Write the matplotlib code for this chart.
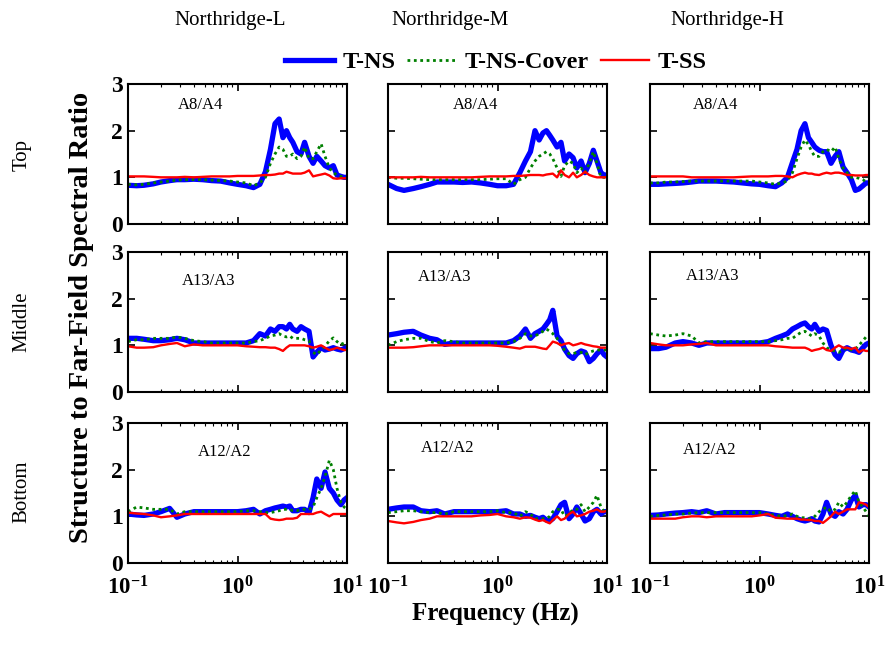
import math
import matplotlib
matplotlib.use("Agg")
import matplotlib.pyplot as plt
from matplotlib.ticker import LogLocator, FixedLocator, NullFormatter, FuncFormatter

plt.rcParams['font.family'] = ['Liberation Serif', 'DejaVu Serif']
plt.rcParams['mathtext.fontset'] = 'custom'
plt.rcParams['mathtext.rm'] = 'Liberation Serif'
plt.rcParams['mathtext.bf'] = 'Liberation Serif:bold'

# frequency grid (Hz) shared by all spectral ratio curves
freq = [0.10, 0.12, 0.14, 0.17, 0.20, 0.24, 0.28, 0.33, 0.40, 0.48,
        0.58, 0.70, 0.85, 1.00, 1.20, 1.40, 1.60, 1.80, 2.00, 2.20,
        2.40, 2.60, 2.80, 3.00, 3.20, 3.50, 3.80, 4.10, 4.50, 4.90,
        5.30, 5.80, 6.30, 6.90, 7.50, 8.10, 8.80, 9.40, 10.0]

records = ['Northridge-L', 'Northridge-M', 'Northridge-H']
levels = ['Top', 'Middle', 'Bottom']
ratio_names = ['A8/A4', 'A13/A3', 'A12/A2']
series_names = ['T-NS', 'T-NS-Cover', 'T-SS']

# Top level (A8/A4)
top_L_tns = [0.83, 0.82, 0.83, 0.86, 0.90, 0.93, 0.95, 0.95, 0.96, 0.95,
             0.93, 0.92, 0.88, 0.85, 0.82, 0.78, 0.85, 1.12, 1.60, 2.15,
             2.25, 1.85, 2.00, 1.85, 1.75, 1.55, 1.50, 1.75, 1.45, 1.30,
             1.45, 1.35, 1.25, 1.20, 1.25, 1.05, 1.02, 1.00, 1.00]
top_L_cov = [0.85, 0.84, 0.85, 0.88, 0.90, 0.92, 0.94, 0.95, 0.95, 0.95,
             0.94, 0.93, 0.92, 0.90, 0.88, 0.82, 0.88, 1.00, 1.30, 1.50,
             1.65, 1.60, 1.45, 1.45, 1.50, 1.40, 1.45, 1.65, 1.40, 1.40,
             1.55, 1.72, 1.45, 1.20, 1.10, 1.05, 1.02, 1.00, 1.00]
top_L_tss = [1.02, 1.02, 1.02, 1.01, 1.00, 1.00, 1.00, 1.01, 1.00, 1.01,
             1.02, 1.02, 1.02, 1.03, 1.03, 1.03, 1.04, 1.05, 1.05, 1.06,
             1.08, 1.08, 1.12, 1.10, 1.08, 1.08, 1.08, 1.10, 1.15, 1.02,
             1.04, 1.06, 1.08, 1.04, 0.98, 0.97, 0.98, 0.98, 0.98]

top_M_tns = [0.85, 0.76, 0.72, 0.76, 0.80, 0.85, 0.90, 0.90, 0.90, 0.89,
             0.90, 0.88, 0.85, 0.82, 0.82, 0.85, 1.10, 1.35, 1.55, 2.00,
             1.80, 1.95, 2.00, 1.90, 1.80, 1.65, 1.75, 1.35, 1.50, 1.42,
             1.20, 1.35, 1.10, 1.30, 1.58, 1.35, 1.10, 1.05, 1.05]
top_M_cov = [1.00, 0.98, 0.98, 0.97, 0.96, 0.95, 0.95, 0.95, 0.95, 0.95,
             0.95, 0.95, 0.96, 0.97, 0.97, 0.85, 0.95, 1.00, 1.20, 1.35,
             1.45, 1.50, 1.55, 1.50, 1.40, 1.20, 1.02, 1.25, 1.35, 1.30,
             1.10, 1.20, 1.10, 1.30, 1.55, 1.30, 1.00, 1.00, 1.00]
top_M_tss = [1.00, 1.00, 1.00, 1.00, 1.01, 1.00, 1.00, 1.00, 1.00, 1.00,
             1.00, 1.01, 1.02, 1.02, 1.02, 1.03, 1.03, 1.04, 1.05, 1.05,
             1.05, 1.04, 1.06, 1.07, 1.08, 1.00, 1.15, 1.05, 1.00, 1.10,
             1.00, 1.05, 1.12, 1.05, 1.02, 1.00, 1.00, 1.00, 1.00]

top_H_tns = [0.85, 0.85, 0.86, 0.87, 0.88, 0.90, 0.92, 0.92, 0.92, 0.91,
             0.90, 0.88, 0.86, 0.85, 0.82, 0.80, 0.88, 1.00, 1.32, 1.60,
             2.00, 2.15, 1.85, 1.75, 1.65, 1.58, 1.55, 1.55, 1.30, 1.45,
             1.55, 1.22, 1.10, 0.95, 0.72, 0.75, 0.82, 0.88, 0.88]
top_H_cov = [0.88, 0.88, 0.90, 0.90, 0.91, 0.92, 0.92, 0.92, 0.92, 0.92,
             0.92, 0.92, 0.92, 0.90, 0.88, 0.85, 0.88, 0.92, 1.10, 1.40,
             1.65, 1.80, 1.70, 1.55, 1.45, 1.45, 1.55, 1.60, 1.55, 1.65,
             1.40, 1.20, 1.10, 1.00, 1.00, 0.98, 0.95, 0.90, 0.88]
top_H_tss = [1.02, 1.02, 1.02, 1.02, 1.02, 1.00, 1.00, 1.00, 1.00, 1.00,
             1.00, 1.01, 1.02, 1.02, 1.02, 1.03, 1.03, 1.02, 1.00, 1.05,
             1.08, 1.10, 1.08, 1.08, 1.06, 1.05, 1.08, 1.10, 1.08, 1.10,
             1.10, 1.08, 1.05, 1.05, 1.04, 1.04, 1.04, 1.05, 1.05]

# Middle level (A13/A3)
mid_L_tns = [1.15, 1.15, 1.13, 1.10, 1.10, 1.12, 1.15, 1.12, 1.05, 1.05,
             1.05, 1.05, 1.05, 1.05, 1.05, 1.10, 1.25, 1.20, 1.35, 1.30,
             1.40, 1.40, 1.35, 1.45, 1.35, 1.30, 1.40, 1.35, 1.30, 0.75,
             0.85, 0.95, 0.90, 0.92, 0.95, 0.92, 0.90, 0.93, 0.95]
mid_L_cov = [1.08, 1.12, 1.12, 1.15, 1.15, 1.15, 1.18, 1.15, 1.10, 1.08,
             1.05, 1.05, 1.05, 1.05, 1.05, 1.08, 1.10, 1.15, 1.20, 1.22,
             1.25, 1.20, 1.18, 1.20, 1.15, 1.15, 1.15, 1.12, 1.10, 0.85,
             0.80, 0.90, 0.98, 1.10, 1.16, 1.08, 1.02, 1.05, 1.05]
mid_L_tss = [0.98, 0.95, 0.95, 0.96, 1.00, 1.03, 1.05, 0.98, 1.02, 1.00,
             1.00, 1.00, 1.00, 1.00, 0.98, 0.97, 0.96, 0.96, 0.95, 0.95,
             0.92, 0.88, 0.95, 1.00, 1.00, 1.00, 1.00, 1.00, 0.98, 0.95,
             0.97, 1.00, 0.95, 0.90, 0.92, 0.95, 0.92, 0.90, 0.90]

mid_M_tns = [1.22, 1.25, 1.28, 1.30, 1.22, 1.15, 1.12, 1.02, 1.05, 1.05,
             1.05, 1.05, 1.05, 1.05, 1.05, 1.10, 1.20, 1.35, 1.15, 1.25,
             1.30, 1.35, 1.45, 1.55, 1.75, 1.20, 1.10, 0.92, 0.78, 0.72,
             0.82, 0.88, 0.85, 0.65, 0.72, 0.82, 0.90, 0.80, 0.75]
mid_M_cov = [1.00, 1.08, 1.12, 1.15, 1.15, 1.08, 1.05, 1.10, 1.08, 1.05,
             1.05, 1.05, 1.05, 1.05, 1.05, 1.08, 1.15, 1.25, 1.20, 1.20,
             1.25, 1.30, 1.35, 1.30, 1.25, 1.15, 1.00, 0.90, 0.82, 0.82,
             0.85, 0.85, 0.80, 0.85, 0.88, 0.90, 0.90, 0.90, 0.90]
mid_M_tss = [0.95, 0.95, 0.95, 0.96, 0.98, 1.00, 1.00, 1.00, 1.00, 1.00,
             1.00, 1.00, 1.00, 0.99, 0.97, 0.95, 0.93, 0.97, 0.97, 0.97,
             0.95, 0.93, 0.92, 1.00, 1.08, 1.05, 1.00, 1.03, 1.05, 1.00,
             1.02, 1.05, 1.02, 1.00, 0.98, 0.97, 0.95, 0.95, 0.95]

mid_H_tns = [0.93, 0.93, 0.96, 1.05, 1.08, 1.05, 1.00, 1.05, 1.05, 1.05,
             1.05, 1.05, 1.05, 1.05, 1.08, 1.15, 1.20, 1.25, 1.35, 1.40,
             1.45, 1.48, 1.40, 1.35, 1.45, 1.30, 1.35, 1.32, 1.00, 0.80,
             0.72, 0.90, 0.95, 0.90, 0.88, 0.85, 0.95, 1.02, 1.05]
mid_H_cov = [1.25, 1.22, 1.20, 1.22, 1.25, 1.20, 1.05, 1.08, 1.08, 1.08,
             1.08, 1.08, 1.08, 1.08, 1.08, 1.10, 1.12, 1.15, 1.15, 1.22,
             1.28, 1.30, 1.25, 1.20, 1.25, 1.20, 1.05, 0.95, 0.90, 0.88,
             0.85, 0.90, 0.95, 0.90, 0.92, 1.00, 1.10, 1.18, 1.20]
mid_H_tss = [1.05, 1.02, 1.00, 1.00, 1.00, 1.02, 1.03, 1.05, 1.00, 1.00,
             1.00, 1.00, 1.00, 1.00, 1.00, 0.98, 0.97, 0.96, 0.95, 0.95,
             0.95, 0.95, 0.92, 0.88, 0.90, 0.92, 0.95, 0.90, 0.88, 0.95,
             1.00, 0.95, 0.95, 0.92, 0.95, 0.85, 0.90, 0.88, 0.88]

# Bottom level (A12/A2)
bot_L_tns = [1.05, 1.03, 1.02, 1.05, 1.10, 1.17, 0.98, 1.05, 1.10, 1.10,
             1.10, 1.10, 1.10, 1.10, 1.12, 1.15, 1.05, 1.12, 1.15, 1.18,
             1.20, 1.22, 1.20, 1.22, 1.12, 1.12, 1.15, 1.15, 1.08, 1.40,
             1.80, 1.60, 1.95, 1.60, 1.50, 1.35, 1.25, 1.35, 1.40]
bot_L_cov = [1.10, 1.20, 1.18, 1.15, 1.15, 1.15, 1.05, 1.10, 1.10, 1.10,
             1.10, 1.10, 1.10, 1.10, 1.12, 1.12, 1.10, 1.08, 1.08, 1.10,
             1.12, 1.15, 1.15, 1.15, 1.12, 1.12, 1.15, 1.15, 1.15, 1.20,
             1.40, 1.60, 1.85, 2.20, 2.00, 1.60, 1.30, 1.20, 1.15]
bot_L_tss = [1.08, 1.06, 1.05, 1.02, 0.98, 1.00, 1.02, 1.05, 1.05, 1.05,
             1.05, 1.05, 1.05, 1.05, 1.05, 1.05, 1.05, 1.05, 0.95, 0.93,
             0.92, 0.93, 0.95, 0.95, 0.95, 0.97, 1.05, 1.05, 1.05, 1.05,
             1.08, 1.10, 1.05, 1.00, 1.05, 1.05, 1.05, 1.05, 1.05]

bot_M_tns = [1.15, 1.18, 1.20, 1.20, 1.12, 1.10, 1.12, 1.05, 1.10, 1.10,
             1.10, 1.10, 1.10, 1.10, 1.12, 1.05, 1.05, 1.00, 1.02, 0.98,
             0.95, 0.98, 0.92, 0.90, 0.95, 1.10, 1.25, 1.30, 0.95, 1.05,
             1.20, 1.05, 0.90, 0.95, 1.10, 1.15, 1.05, 1.10, 1.10]
bot_M_cov = [1.08, 1.10, 1.12, 1.12, 1.10, 1.08, 1.08, 1.05, 1.10, 1.10,
             1.10, 1.10, 1.10, 1.12, 1.08, 1.08, 1.00, 1.10, 1.05, 0.95,
             0.95, 0.95, 0.95, 1.00, 1.10, 1.15, 1.15, 1.00, 1.05, 1.15,
             1.15, 1.25, 1.10, 1.20, 1.30, 1.45, 1.20, 1.10, 1.15]
bot_M_tss = [0.90, 0.87, 0.85, 0.88, 0.92, 0.95, 1.00, 1.00, 1.00, 1.00,
             1.00, 1.02, 1.03, 1.05, 1.00, 0.98, 0.95, 0.98, 0.97, 0.93,
             0.90, 0.92, 0.88, 0.85, 0.92, 1.00, 0.92, 0.95, 1.05, 1.10,
             1.00, 1.02, 1.05, 1.10, 1.12, 1.15, 1.10, 1.10, 1.12]

bot_H_tns = [1.02, 1.03, 1.05, 1.07, 1.08, 1.10, 1.08, 1.12, 1.05, 1.08,
             1.08, 1.08, 1.08, 1.08, 1.05, 1.02, 1.00, 1.05, 1.00, 0.95,
             0.92, 0.90, 0.92, 0.95, 0.90, 0.88, 1.05, 1.30, 1.05, 1.00,
             1.10, 1.05, 1.15, 1.35, 1.45, 1.20, 1.25, 1.25, 1.20]
bot_H_cov = [1.00, 1.02, 1.03, 1.05, 1.05, 1.07, 1.08, 1.08, 1.08, 1.08,
             1.08, 1.08, 1.08, 1.08, 1.05, 1.02, 1.00, 1.02, 1.05, 1.00,
             0.97, 0.97, 0.95, 0.95, 1.00, 1.10, 1.15, 1.20, 1.10, 1.15,
             1.30, 1.20, 1.30, 1.45, 1.55, 1.30, 1.20, 1.10, 1.00]
bot_H_tss = [0.95, 0.95, 0.95, 0.95, 0.98, 1.00, 1.00, 0.98, 1.00, 1.00,
             1.00, 1.00, 1.00, 1.02, 1.05, 0.97, 0.96, 0.95, 0.95, 0.95,
             0.93, 0.93, 0.92, 0.92, 0.90, 0.90, 0.86, 0.92, 1.00, 1.10,
             1.05, 1.10, 1.15, 1.15, 1.15, 1.30, 1.28, 1.25, 1.20]

panels = [
    [(top_L_tns, top_L_cov, top_L_tss), (top_M_tns, top_M_cov, top_M_tss), (top_H_tns, top_H_cov, top_H_tss)],
    [(mid_L_tns, mid_L_cov, mid_L_tss), (mid_M_tns, mid_M_cov, mid_M_tss), (mid_H_tns, mid_H_cov, mid_H_tss)],
    [(bot_L_tns, bot_L_cov, bot_L_tss), (bot_M_tns, bot_M_cov, bot_M_tss), (bot_H_tns, bot_H_cov, bot_H_tss)],
]

# where the ratio label sits inside each panel (axes fraction)
label_pos = [[(0.33, 0.85), (0.40, 0.85), (0.30, 0.85)],
             [(0.37, 0.79), (0.26, 0.82), (0.285, 0.83)],
             [(0.44, 0.79), (0.27, 0.82), (0.27, 0.81)]]

W, H = 888, 647
fig = plt.figure(figsize=(W / 100, H / 100), dpi=100)

col_left = [128, 388, 650]
row_top = [84, 252, 423]
ax_w, ax_h = 219, 140


def fmt_pow(v, pos):
    e = int(round(math.log10(v)))
    return r'$\mathbf{10^{%d}}$' % e


lines = None
for r in range(3):
    for c in range(3):
        ax = fig.add_axes([col_left[c] / W, 1 - (row_top[r] + ax_h) / H, ax_w / W, ax_h / H])
        tns, cov, tss = panels[r][c]
        l1, = ax.plot(freq, tns, color='#0000ff', lw=3.8, solid_joinstyle='round')
        l2, = ax.plot(freq, cov, color='#008000', lw=2.0, ls=(0, (1, 1.3)))
        l3, = ax.plot(freq, tss, color='#ff0000', lw=1.7)
        lines = (l1, l2, l3)
        ax.set_xscale('log')
        ax.set_xlim(0.1, 10)
        ax.set_ylim(0, 3)
        ax.yaxis.set_major_locator(FixedLocator([0, 1, 2, 3]))
        ax.xaxis.set_major_locator(LogLocator(base=10))
        ax.xaxis.set_minor_locator(LogLocator(base=10, subs=range(2, 10)))
        ax.xaxis.set_minor_formatter(NullFormatter())
        ax.tick_params(which='both', direction='in', top=True, right=True)
        ax.tick_params(which='major', length=5, width=1.2)
        ax.tick_params(which='minor', length=2.5, width=0.8)
        for s in ax.spines.values():
            s.set_linewidth(1.5)
        if c == 0:
            ax.set_yticklabels(['0', '1', '2', '3'], fontsize=17, fontweight='bold')
        else:
            ax.set_yticklabels([])
        if r == 2:
            ax.xaxis.set_major_formatter(FuncFormatter(fmt_pow))
            for t in ax.get_xticklabels():
                t.set_fontsize(16.5)
            ax.tick_params(axis='x', pad=9.5)
        else:
            ax.set_xticklabels([])
        lx, ly = label_pos[r][c]
        ax.text(lx, ly, ratio_names[r], transform=ax.transAxes,
                ha='center', va='center', fontsize=12)

# column titles
for x, name in zip([230, 450, 727], records):
    fig.text(x / W, 1 - 21 / H, name, ha='center', va='center', fontsize=15)

# row labels
for y, name in zip([155, 322, 492], levels):
    fig.text(22 / W, 1 - y / H, name, ha='center', va='center',
             rotation=90, fontsize=15)

fig.legend(lines, series_names, loc='center', bbox_to_anchor=(496 / W, 1 - 62 / H),
           ncol=3, frameon=False, handlelength=2.0, columnspacing=0.5,
           handletextpad=0.35, prop={'weight': 'bold', 'size': 17.5})

fig.text(82 / W, 1 - 317 / H, 'Structure to Far-Field Spectral Ratio',
         rotation=90, ha='center', va='center', fontsize=20.5, fontweight='bold')
fig.text(495 / W, 1 - 614 / H, 'Frequency (Hz)', ha='center', va='center',
         fontsize=18, fontweight='bold')

fig.savefig('out.png', dpi=100)
